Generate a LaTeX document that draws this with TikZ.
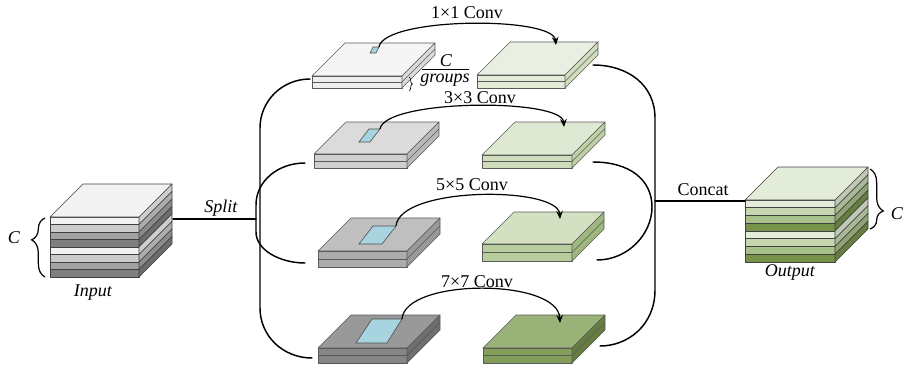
\documentclass[tikz,border=0pt]{standalone}
\usepackage{fontspec}
\setmainfont{Liberation Serif}
\usetikzlibrary{arrows.meta,decorations.pathreplacing}

% layer colours of the input and output stacks
\definecolor{inA}{HTML}{F2F2F2}
\definecolor{inB}{HTML}{CBCBCB}
\definecolor{inC}{HTML}{A3A3A3}
\definecolor{inD}{HTML}{7F7F7F}
\definecolor{outA}{HTML}{E3EBD9}
\definecolor{outB}{HTML}{C6D7AF}
\definecolor{outC}{HTML}{A8C08A}
\definecolor{outD}{HTML}{77934B}
\definecolor{kblue}{HTML}{A8D4DF}

% drawslab: front top-left (x,y), width, height, depth, top, front, side colours
\newcommand\drawslab[8]{%
  \filldraw[slabedge,fill=#6] (#1,#2) -- ++(#3,0) -- ++(#5,-#5) -- ++(-#3,0) -- cycle;
  \filldraw[slabedge,fill=#7] (#1,#2) rectangle ++({#3},{#4/2});
  \filldraw[slabedge,fill=#7] (#1,{#2+#4/2}) rectangle ++({#3},{#4/2});
  \filldraw[slabedge,fill=#8] ({#1+#3},#2) -- ++(#5,-#5) -- ++(0,#4) -- ++(-#5,#5) -- cycle;
  \draw[slabedge] ({#1+#3},{#2+#4/2}) -- ++(#5,-#5);
}

% drawstack: front top-left (x,y), width, height, depth, layer colours, top colour
\newcommand\drawstack[7]{%
  \foreach \c [count=\i from 0] in {#6} {
    \filldraw[stackedge,fill=\c] (#1,{#2+\i*#4/8}) rectangle ++({#3},{#4/8});
    \filldraw[stackedge,fill=\c!85!black] ({#1+#3},{#2+\i*#4/8}) -- ++(#5,-#5)
      -- ++(0,{#4/8}) -- ++(-#5,#5) -- cycle;
  }
  \filldraw[stackedge,fill=#7] (#1,#2) -- ++(#3,0) -- ++(#5,-#5) -- ++(-#3,0) -- cycle;
}

\begin{document}
\begin{tikzpicture}[x=0.75pt,y=-0.75pt,
  slabedge/.style={draw=black!65,line width=0.45pt,line join=round},
  stackedge/.style={draw=black!75,line width=0.5pt,line join=round},
  kernel/.style={draw=black!70,line width=0.45pt,fill=kblue},
  wire/.style={line width=1.1pt,line cap=round},
  conv/.style={line width=0.9pt,-{Stealth[length=6pt,width=5pt]}},
  lbl/.style={font=\fontsize{13.5}{16}\selectfont,inner sep=1pt},
  brc/.style={line width=0.9pt,decorate}]
\useasboundingbox (0,0) rectangle (908,372);

% input and output feature stacks
\drawstack{50}{217}{89}{60}{33}{inA,inB,inC,inD,inA,inB,inC,inD}{inA}
\drawstack{745}{200}{90}{62}{33}{outA,outB,outC,outD,outA,outB,outC,outD}{outA}

% grouped inputs (left) and convolved groups (right)
\drawslab{312}{76}{90}{12}{33}{gray!8}{gray!13}{gray!28}
\drawslab{314}{154}{93}{14}{32}{gray!28}{gray!38}{gray!55}
\drawslab{318}{251}{89}{16}{33}{gray!50}{gray!65}{gray!80}
\drawslab{318}{348}{89}{15}{33}{gray!80}{gray!95}{black!57}

\drawslab{477}{75}{88}{13}{33}{outA!80!white}{outA}{outB!80!white}
\drawslab{482}{155}{90}{13}{33}{outA!85!outB}{outB!70!outA}{outB!75!outC}
\drawslab{482}{244}{90}{17}{32}{outB!55!outA}{outB!55!outC}{outC!80!outD}
\drawslab{483}{348}{89}{15}{33}{outC!70!outD}{outC!25!outD}{outD!85!black}

% convolution kernels on the input groups
\filldraw[kernel] (370,53) -- (376,53) -- (379,47) -- (373,47) -- cycle;
\filldraw[kernel] (359,142) -- (370,142) -- (380,129) -- (369,129) -- cycle;
\filldraw[kernel] (359,244) -- (382,244) -- (396,226) -- (373,226) -- cycle;
\filldraw[kernel] (356,343) -- (387,343) -- (402,319) -- (372,319) -- cycle;

% kernel and target anchors
\coordinate (k1) at (379,47);  \coordinate (t1) at (556,45);
\coordinate (k2) at (380,129); \coordinate (t2) at (564,127);
\coordinate (k3) at (396,226); \coordinate (t3) at (560,219);
\coordinate (k4) at (402,319); \coordinate (t4) at (560,323);

\draw[conv] (k1) .. controls (384,17) and (553,16) .. (t1);
\draw[conv] (k2) .. controls (385,99) and (562,98) .. (t2);
\draw[conv] (k3) .. controls (400,186) and (558,186) .. (t3);
\draw[conv] (k4) .. controls (405,278) and (558,278) .. (t4);

\node[lbl] (c1) at (467,13) {1×1 Conv};
\node[lbl] (c3) at (480,98) {3×3 Conv};
\node[lbl] (c5) at (472,185) {5×5 Conv};
\node[lbl] (c7) at (477,282) {7×7 Conv};

% group size annotation: C over groups
\draw[line width=0.5pt,decorate,decoration={brace,amplitude=2.5pt}] (409,77) -- (409,91);
\node[lbl,anchor=base] (gC) at (446,66) {\textit{C}};
\node[lbl,anchor=base] (gG) at (445,82) {\textit{groups}};
\coordinate (barL) at (422,69.5);
\coordinate (barR) at (469,69.5);
\draw[line width=0.6pt] (barL) -- (barR);

% split into branches
\coordinate (inR) at (173,219);
\coordinate (jL) at (256,219);
\coordinate (bL1) at (310,79);
\coordinate (bL2) at (305,163);
\coordinate (bL3) at (305,263);
\coordinate (bL4) at (312,358);
\draw[wire] (inR) -- (jL);
\draw[wire] (bL1) .. controls (282,79) and (260,101) .. (260,128) -- (260,308)
  .. controls (260,336) and (283,358) .. (bL4);
\draw[wire] (bL2) .. controls (278,163) and (256,181) .. (256,205) -- (256,232)
  .. controls (256,250) and (280,263) .. (bL3);

% concatenation of branches
\coordinate (bR1) at (593,65);
\coordinate (bR2) at (593,162);
\coordinate (bR3) at (597,260);
\coordinate (bR4) at (600,346);
\coordinate (jR) at (655,201);
\coordinate (outL) at (745,201);
\draw[wire] (bR1) .. controls (628,65) and (655,85) .. (655,118) -- (655,290)
  .. controls (655,325) and (628,346) .. (bR4);
\draw[wire] (bR2) .. controls (630,162) and (652,180) .. (652,207)
  .. controls (652,234) and (628,260) .. (bR3);
\draw[wire] (jR) -- (outL);

\node[lbl,anchor=south] (split) at (221,218) {\textit{Split}};
\node[lbl,anchor=south] (concat) at (703,197) {Concat};

% channel braces
\draw[brc,decoration={brace,amplitude=10pt,aspect=0.63}] (45,277) -- (45,218);
\draw[brc,decoration={brace,amplitude=10pt,aspect=0.7}] (870,169) -- (870,229);
\node[lbl] (cin) at (14,238) {\textit{C}};
\node[lbl] (cout) at (897,214) {\textit{C}};

\node[lbl] (input) at (93,293) {\textit{Input}};
\node[lbl] (output) at (790,272) {\textit{Output}};
\end{tikzpicture}
\end{document}
